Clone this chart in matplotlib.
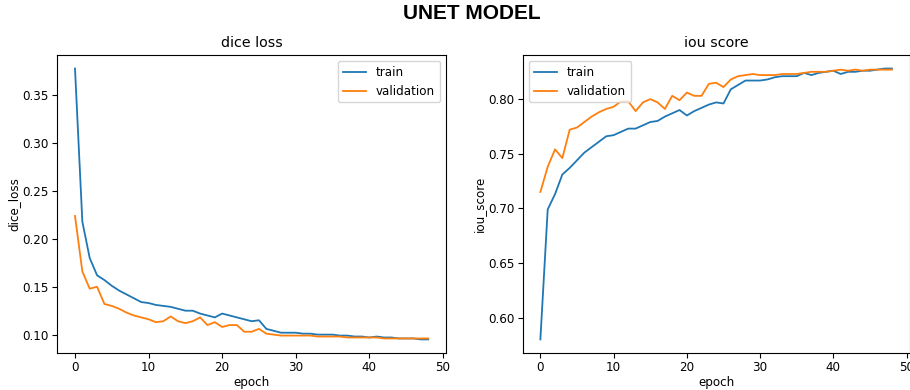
import matplotlib
matplotlib.use('Agg')
import matplotlib.pyplot as plt

plt.rcParams['font.size'] = 8.6
plt.rcParams['xtick.major.pad'] = 2.0
plt.rcParams['ytick.major.pad'] = 2.5
plt.rcParams['axes.labelpad'] = 1.5
plt.rcParams['lines.linewidth'] = 1.3

epochs = list(range(49))

train_dice = [0.378, 0.218, 0.180, 0.162, 0.157, 0.151, 0.146, 0.142, 0.138, 0.134,
              0.133, 0.131, 0.130, 0.129, 0.127, 0.125, 0.125, 0.122, 0.120, 0.118,
              0.122, 0.120, 0.118, 0.116, 0.114, 0.115, 0.106, 0.104, 0.102, 0.102,
              0.102, 0.101, 0.101, 0.100, 0.100, 0.100, 0.099, 0.099, 0.098, 0.098,
              0.097, 0.098, 0.097, 0.097, 0.096, 0.096, 0.096, 0.095, 0.095]
val_dice = [0.224, 0.166, 0.148, 0.150, 0.132, 0.130, 0.127, 0.123, 0.120, 0.118,
            0.116, 0.113, 0.114, 0.119, 0.114, 0.112, 0.114, 0.118, 0.110, 0.113,
            0.108, 0.110, 0.110, 0.103, 0.103, 0.106, 0.101, 0.100, 0.099, 0.099,
            0.099, 0.099, 0.099, 0.098, 0.098, 0.098, 0.098, 0.097, 0.097, 0.097,
            0.097, 0.097, 0.096, 0.096, 0.096, 0.096, 0.096, 0.096, 0.096]

train_iou = [0.580, 0.699, 0.713, 0.731, 0.737, 0.744, 0.751, 0.756, 0.761, 0.766,
             0.767, 0.770, 0.773, 0.773, 0.776, 0.779, 0.780, 0.784, 0.787, 0.790,
             0.785, 0.789, 0.792, 0.795, 0.797, 0.796, 0.809, 0.813, 0.817, 0.817,
             0.817, 0.818, 0.820, 0.821, 0.821, 0.821, 0.824, 0.822, 0.824, 0.825,
             0.826, 0.823, 0.825, 0.825, 0.826, 0.826, 0.827, 0.828, 0.828]
val_iou = [0.715, 0.738, 0.754, 0.746, 0.772, 0.774, 0.779, 0.784, 0.788, 0.791,
           0.793, 0.798, 0.798, 0.789, 0.797, 0.800, 0.797, 0.791, 0.803, 0.799,
           0.806, 0.803, 0.803, 0.814, 0.815, 0.811, 0.818, 0.821, 0.822, 0.823,
           0.822, 0.822, 0.822, 0.823, 0.823, 0.823, 0.824, 0.825, 0.825, 0.825,
           0.826, 0.827, 0.826, 0.827, 0.826, 0.827, 0.827, 0.827, 0.827]

fig = plt.figure(figsize=(9.1, 3.9), dpi=100)
fig.suptitle('UNET MODEL', x=0.518, y=0.99, fontsize=15, fontweight='bold',
             family=['Liberation Sans Narrow', 'Liberation Sans', 'DejaVu Sans'])

ax1 = fig.add_axes([0.063, 0.095, 0.427, 0.764])
ax1.plot(epochs, train_dice, label='train')
ax1.plot(epochs, val_dice, label='validation')
ax1.set_title('dice loss', fontsize=10.3)
ax1.set_xlabel('epoch')
ax1.set_ylabel('dice_loss')
ax1.legend(loc='upper right')

ax2 = fig.add_axes([0.5745, 0.095, 0.425, 0.764])
ax2.plot(epochs, train_iou, label='train')
ax2.plot(epochs, val_iou, label='validation')
ax2.set_title('iou score', fontsize=10.3)
ax2.set_xlabel('epoch')
ax2.set_ylabel('iou_score')
ax2.legend(loc='upper left')

fig.savefig('out.png', dpi=100)
